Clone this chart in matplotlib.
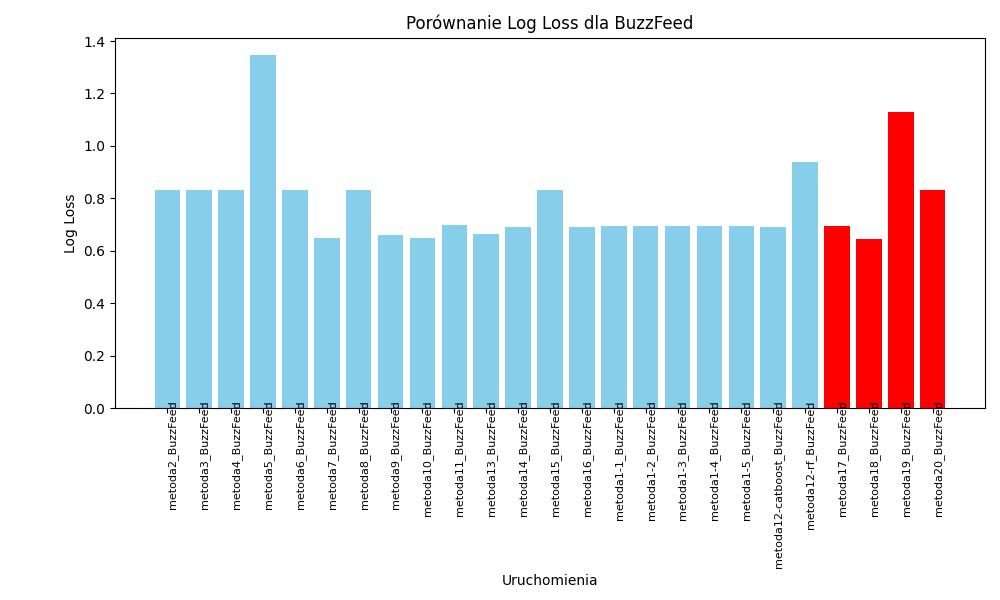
import matplotlib.pyplot as plt

methods = ['metoda2_BuzzFeed', 'metoda3_BuzzFeed', 'metoda4_BuzzFeed', 'metoda5_BuzzFeed',
           'metoda6_BuzzFeed', 'metoda7_BuzzFeed', 'metoda8_BuzzFeed', 'metoda9_BuzzFeed',
           'metoda10_BuzzFeed', 'metoda11_BuzzFeed', 'metoda13_BuzzFeed', 'metoda14_BuzzFeed',
           'metoda15_BuzzFeed', 'metoda16_BuzzFeed', 'metoda1-1_BuzzFeed', 'metoda1-2_BuzzFeed',
           'metoda1-3_BuzzFeed', 'metoda1-4_BuzzFeed', 'metoda1-5_BuzzFeed',
           'metoda12-catboost_BuzzFeed', 'metoda12-rf_BuzzFeed', 'metoda17_BuzzFeed',
           'metoda18_BuzzFeed', 'metoda19_BuzzFeed', 'metoda20_BuzzFeed']
log_loss = [0.83, 0.83, 0.83, 1.345, 0.83, 0.65, 0.83, 0.66, 0.65, 0.70, 0.665, 0.69,
            0.83, 0.69, 0.693, 0.693, 0.693, 0.693, 0.693, 0.69, 0.94, 0.693, 0.645, 1.13, 0.83]
highlighted = ['metoda17_BuzzFeed', 'metoda18_BuzzFeed', 'metoda19_BuzzFeed', 'metoda20_BuzzFeed']

colors = ['red' if m in highlighted else 'skyblue' for m in methods]

fig, ax = plt.subplots(figsize=(10, 6), dpi=100)
ax.bar(methods, log_loss, color=colors)
ax.set_title('Porównanie Log Loss dla BuzzFeed')
ax.set_xlabel('Uruchomienia')
ax.set_ylabel('Log Loss')
plt.xticks(rotation=90, ha='left', fontsize=8)
ax.tick_params(axis='x', pad=-9)
plt.subplots_adjust(left=0.115, right=0.985, top=0.937, bottom=0.32)
plt.savefig('out.png')
